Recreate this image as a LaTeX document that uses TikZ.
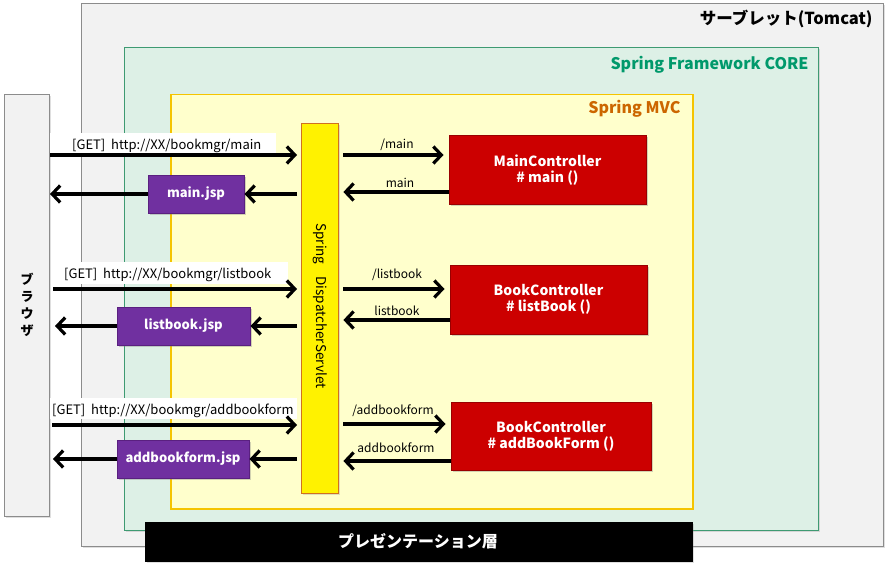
\documentclass[tikz,border=0pt]{standalone}
\usepackage{fontspec}
\setmainfont{Noto Sans CJK JP}
\usetikzlibrary{arrows.meta,shadows}
\definecolor{tcfill}{HTML}{F2F2F2}
\definecolor{tcdraw}{HTML}{8C8C8C}
\definecolor{corefill}{HTML}{DDF0E6}
\definecolor{coredraw}{HTML}{3E9A72}
\definecolor{coretext}{HTML}{00996B}
\definecolor{mvcfill}{HTML}{FFFFCC}
\definecolor{mvcdraw}{HTML}{F5C400}
\definecolor{mvctext}{HTML}{CC6600}
\definecolor{dispdraw}{HTML}{D07020}
\definecolor{ctrlfill}{HTML}{CC0000}
\definecolor{ctrldraw}{HTML}{990000}
\definecolor{jspfill}{HTML}{7030A0}
\definecolor{jspdraw}{HTML}{5A2080}
\tikzset{
  area/.style={draw, rectangle, anchor=north west, inner sep=0pt, drop shadow={opacity=0.25,shadow xshift=1.5pt,shadow yshift=-1.5pt}},
  ctrl/.style={rectangle, draw=ctrldraw, fill=ctrlfill, line width=1pt, text=white, font=\bfseries\fontsize{14}{16}\selectfont, align=center, inner sep=0pt, drop shadow={opacity=0.35,shadow xshift=1.5pt,shadow yshift=-1.5pt}},
  jsp/.style={rectangle, draw=jspdraw, fill=jspfill, line width=1pt, text=white, font=\bfseries\fontsize{13}{15}\selectfont, inner sep=0pt, drop shadow={opacity=0.35,shadow xshift=1.5pt,shadow yshift=-1.5pt}},
  arr/.style={line width=3.8pt, -{Straight Barb[length=8pt,width=17pt,line width=3.2pt]}},
  lbl/.style={font=\fontsize{12}{14}\selectfont, inner sep=1pt},
  whitebg/.style={fill=white, draw=none, rectangle, anchor=north west, inner sep=0pt},
  url/.style={font=\fontsize{13}{15}\selectfont, inner sep=0pt, anchor=west},
}
\begin{document}
\begin{tikzpicture}[x=1pt,y=-1pt]
\useasboundingbox (0,0) rectangle (886,567);
% containers
\node[area, fill=tcfill, draw=tcdraw, minimum width=802pt, minimum height=543pt] (tomcat) at (81,3) {};
\node[area, fill=corefill, draw=coredraw, minimum width=694pt, minimum height=483pt] (core) at (124,47) {};
\node[area, fill=mvcfill, draw=mvcdraw, line width=1.5pt, minimum width=522pt, minimum height=414pt] (mvc) at (170,94) {};
\node[area, fill=tcfill, draw=tcdraw, minimum width=45pt, minimum height=422pt] (browser) at (4,94) {};
\node[font=\bfseries\fontsize{13}{17}\selectfont, align=center] (browsertext) at (27,305) {ブ\\ラ\\ウ\\ザ};
% titles
\node[anchor=east, font=\bfseries\fontsize{16.5}{18}\selectfont] (tomcatlbl) at (876,19) {サーブレット(Tomcat)};
\node[anchor=east, font=\bfseries\fontsize{16}{18}\selectfont, text=coretext] (corelbl) at (812,65) {Spring Framework CORE};
\node[anchor=east, font=\bfseries\fontsize{16}{18}\selectfont, text=mvctext] (mvclbl) at (684,109) {Spring MVC};
% dispatcher
\node[area, fill=yellow, draw=dispdraw, minimum width=37pt, minimum height=370pt] (disp) at (301,123) {};
\node[rotate=-90, font=\fontsize{13.5}{15}\selectfont] (disptext) at (320,306) {Spring\hspace{12pt}DispatcherServlet};
% controllers
\node[ctrl, minimum width=197pt, minimum height=68pt] (c1) at (547.5,170) {MainController\\\# main ()};
\node[ctrl, minimum width=197pt, minimum height=69pt] (c2) at (548.5,299.5) {BookController\\\# listBook ()};
\node[ctrl, minimum width=200pt, minimum height=68pt] (c3) at (551,436) {BookController\\\# addBookForm ()};
% jsp
\node[jsp, minimum width=96pt, minimum height=38pt] (j1) at (196,194) {main.jsp};
\node[jsp, minimum width=133pt, minimum height=38pt] (j2) at (183.5,326) {listbook.jsp};
\node[jsp, minimum width=132pt, minimum height=38pt] (j3) at (183,459) {addbookform.jsp};
% url labels
\node[whitebg, minimum width=226pt, minimum height=20pt] (w1) at (50,133) {};
\node[whitebg, minimum width=235pt, minimum height=22pt] (w2) at (53,262) {};
\node[whitebg, minimum width=247pt, minimum height=21pt] (w3) at (50,398) {};
\node[url] (u1) at (72,146) {[GET]\ \ http://XX/bookmgr/main};
\node[url] (u2) at (64,275) {[GET]\ \ http://XX/bookmgr/listbook};
\node[url] (u3) at (52,411) {[GET]\ \ http://XX/bookmgr/addbookform};
% row 1
\coordinate (b1) at (50,155); \coordinate (b1r) at (50,194);
\draw[arr] (b1) -- ([xshift=-4pt]disp.west |- b1);
\draw[arr] ([xshift=-4pt]disp.west |- j1) -- (j1.east);
\draw[arr] (j1.west) -- (b1r);
\draw[arr] ([xshift=5pt]disp.east |- 0,155) -- ([xshift=-5pt]c1.west |- 0,155);
\draw[arr] (c1.west |- 0,192) -- ([xshift=5pt]disp.east |- 0,192);
\node[lbl] (l1a) at (397,145) {/main};
\node[lbl] (l1b) at (400,183) {main};
% row 2
\coordinate (b2) at (53,289); \coordinate (b2r) at (55,326);
\draw[arr] (b2) -- ([xshift=-4pt]disp.west |- b2);
\draw[arr] ([xshift=-4pt]disp.west |- j2) -- (j2.east);
\draw[arr] (j2.west) -- (b2r);
\draw[arr] ([xshift=5pt]disp.east |- 0,289) -- ([xshift=-5pt]c2.west |- 0,289);
\draw[arr] (c2.west |- 0,320) -- ([xshift=5pt]disp.east |- 0,320);
\node[lbl] (l2a) at (397,275) {/listbook};
\node[lbl] (l2b) at (397,311) {listbook};
% row 3
\coordinate (b3) at (52,425); \coordinate (b3r) at (53,459);
\draw[arr] (b3) -- ([xshift=-4pt]disp.west |- b3);
\draw[arr] ([xshift=-4pt]disp.west |- j3) -- (j3.east);
\draw[arr] (j3.west) -- (b3r);
\draw[arr] ([xshift=5pt]disp.east |- 0,424) -- ([xshift=-5pt]c3.west |- 0,424);
\draw[arr] (c3.west |- 0,461) -- ([xshift=5pt]disp.east |- 0,461);
\node[lbl] (l3a) at (393,411) {/addbookform};
\node[lbl] (l3b) at (396,448) {addbookform};
% bottom bar
\node[area, fill=black, draw=black, minimum width=547pt, minimum height=39pt] (bar) at (145,522) {};
\node[text=white, font=\bfseries\fontsize{16}{18}\selectfont] (bartext) at (418,541) {プレゼンテーション層};
\end{tikzpicture}
\end{document}
